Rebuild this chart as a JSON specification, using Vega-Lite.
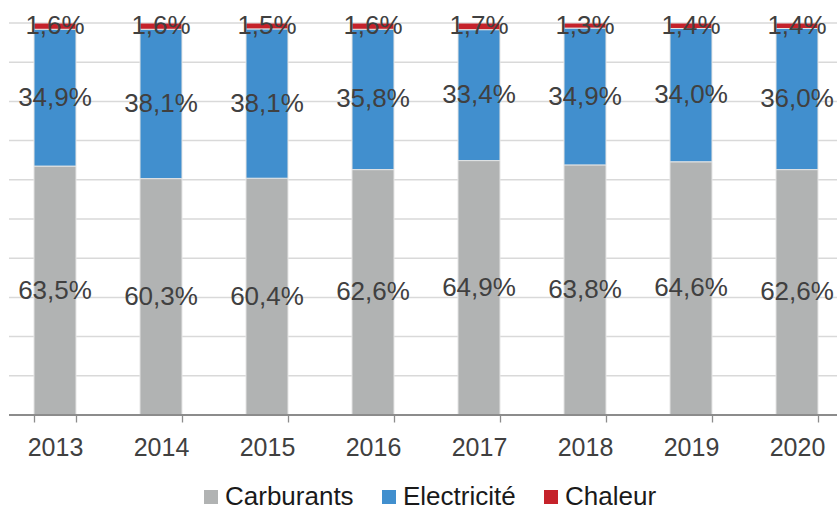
{
  "$schema": "https://vega.github.io/schema/vega-lite/v6.json",
  "width": 828,
  "height": 392,
  "autosize": {"type": "none"},
  "padding": {"left": 9, "top": 23, "right": 0, "bottom": 93},
  "background": "white",
  "config": {
    "view": {"stroke": null},
    "font": "Liberation Sans",
    "locale": {"number": {"decimal": ",", "thousands": " ", "grouping": [3], "currency": ["", " €"]}}
  },
  "datasets": {
    "shares": [
      {"year": "2013", "cat": "Carburants", "ord": 1, "value": 0.635},
      {"year": "2013", "cat": "Electricité", "ord": 2, "value": 0.349},
      {"year": "2013", "cat": "Chaleur", "ord": 3, "value": 0.016},
      {"year": "2014", "cat": "Carburants", "ord": 1, "value": 0.603},
      {"year": "2014", "cat": "Electricité", "ord": 2, "value": 0.381},
      {"year": "2014", "cat": "Chaleur", "ord": 3, "value": 0.016},
      {"year": "2015", "cat": "Carburants", "ord": 1, "value": 0.604},
      {"year": "2015", "cat": "Electricité", "ord": 2, "value": 0.381},
      {"year": "2015", "cat": "Chaleur", "ord": 3, "value": 0.015},
      {"year": "2016", "cat": "Carburants", "ord": 1, "value": 0.626},
      {"year": "2016", "cat": "Electricité", "ord": 2, "value": 0.358},
      {"year": "2016", "cat": "Chaleur", "ord": 3, "value": 0.016},
      {"year": "2017", "cat": "Carburants", "ord": 1, "value": 0.649},
      {"year": "2017", "cat": "Electricité", "ord": 2, "value": 0.334},
      {"year": "2017", "cat": "Chaleur", "ord": 3, "value": 0.017},
      {"year": "2018", "cat": "Carburants", "ord": 1, "value": 0.638},
      {"year": "2018", "cat": "Electricité", "ord": 2, "value": 0.349},
      {"year": "2018", "cat": "Chaleur", "ord": 3, "value": 0.013},
      {"year": "2019", "cat": "Carburants", "ord": 1, "value": 0.646},
      {"year": "2019", "cat": "Electricité", "ord": 2, "value": 0.340},
      {"year": "2019", "cat": "Chaleur", "ord": 3, "value": 0.014},
      {"year": "2020", "cat": "Carburants", "ord": 1, "value": 0.626},
      {"year": "2020", "cat": "Electricité", "ord": 2, "value": 0.360},
      {"year": "2020", "cat": "Chaleur", "ord": 3, "value": 0.014}
    ],
    "grid": [
      {"g": 0.1}, {"g": 0.2}, {"g": 0.3}, {"g": 0.4}, {"g": 0.5},
      {"g": 0.6}, {"g": 0.7}, {"g": 0.8}, {"g": 0.9}, {"g": 1.0}
    ]
  },
  "layer": [
    {
      "data": {"name": "grid"},
      "mark": {"type": "rule", "color": "#d9d9d9", "strokeWidth": 1.5},
      "encoding": {
        "y": {"field": "g", "type": "quantitative", "scale": {"domain": [0, 1], "nice": false}, "axis": null}
      }
    },
    {
      "data": {"name": "shares"},
      "mark": {"type": "bar", "stroke": "#e4e4e4", "strokeWidth": 1},
      "encoding": {
        "x": {
          "field": "year", "type": "nominal",
          "scale": {"range": [-7, 841], "paddingInner": 0.604, "paddingOuter": 0.302},
          "axis": {
            "title": null, "domain": false, "grid": false,
            "tickBand": "extent", "ticks": true, "tickColor": "#8c8c8c", "tickSize": 7, "tickWidth": 1.3,
            "labelFontSize": 25, "labelColor": "#404040", "labelFont": "Liberation Sans",
            "labelPadding": 13, "labelAngle": 0
          }
        },
        "y": {
          "field": "value", "type": "quantitative", "stack": "zero",
          "scale": {"domain": [0, 1], "nice": false},
          "axis": null
        },
        "color": {
          "field": "cat", "type": "nominal",
          "scale": {"domain": ["Carburants", "Electricité", "Chaleur"], "range": ["#b1b3b3", "#418fce", "#c5222a"]},
          "legend": {
            "title": null, "orient": "none", "direction": "horizontal",
            "legendX": 189, "legendY": 461,
            "symbolType": "square", "symbolSize": 196, "symbolStrokeWidth": 0,
            "labelFontSize": 26, "labelFont": "Liberation Sans", "labelColor": "#1a1a1a",
            "labelOffset": 1, "columnPadding": 22
          }
        },
        "order": {"field": "ord", "type": "quantitative"}
      }
    },
    {
      "data": {"name": "shares"},
      "transform": [
        {"stack": "value", "groupby": ["year"], "sort": [{"field": "ord"}], "as": ["v0", "v1"]},
        {"fold": ["v0", "v1"], "as": ["edge", "pos"]},
        {"aggregate": [{"op": "mean", "field": "pos", "as": "mid"}], "groupby": ["year", "cat", "value"]}
      ],
      "mark": {"type": "text", "fontSize": 26, "font": "Liberation Sans", "color": "#404040", "baseline": "middle", "align": "center"},
      "encoding": {
        "x": {
          "field": "year", "type": "nominal",
          "axis": {
            "title": null, "domain": false, "grid": false,
            "tickBand": "extent", "ticks": true, "tickColor": "#8c8c8c", "tickSize": 7, "tickWidth": 1.3,
            "labelFontSize": 25, "labelColor": "#404040", "labelFont": "Liberation Sans",
            "labelPadding": 13, "labelAngle": 0
          }
        },
        "y": {"field": "mid", "type": "quantitative", "axis": null},
        "text": {"field": "value", "type": "quantitative", "format": ".1%"}
      }
    },
    {
      "data": {"name": "shares"},
      "mark": {"type": "rule", "color": "#8c8c8c", "strokeWidth": 1.5},
      "encoding": {"y": {"datum": 0, "axis": null}}
    }
  ]
}
